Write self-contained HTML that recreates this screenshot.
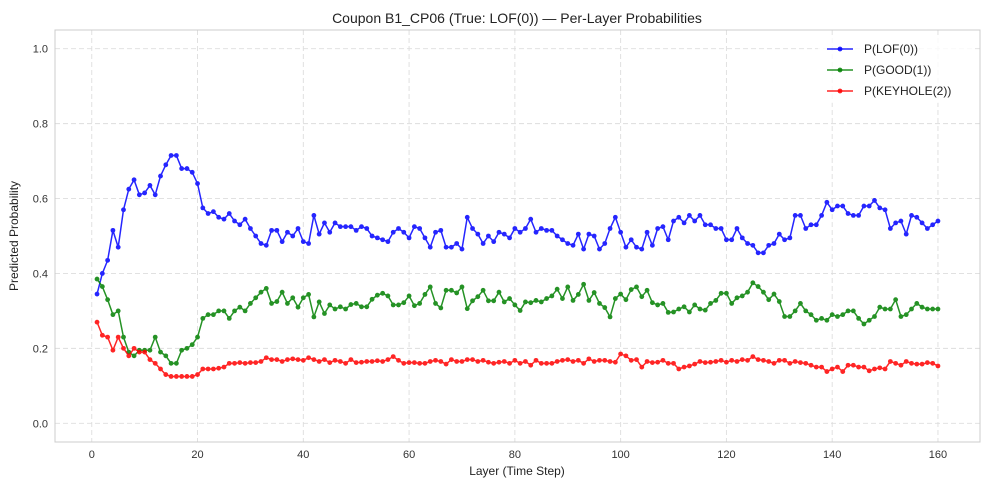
<!DOCTYPE html>
<html><head><meta charset="utf-8"><style>
html,body{margin:0;padding:0;background:#fff;}
svg{display:block;font-family:"Liberation Sans",Arial,sans-serif;}
</style></head><body>
<svg id="chart" width="989" height="490" viewBox="0 0 989 490">
<g id="grid"></g>
<rect x="55" y="30" width="925" height="412" fill="none" stroke="#ccc" stroke-width="1"/>
<g id="series"></g>
<g id="ticks"></g>
<text x="517" y="23" text-anchor="middle" font-size="14" fill="#222">Coupon B1_CP06 (True: LOF(0)) — Per-Layer Probabilities</text>
<text x="517" y="475" text-anchor="middle" font-size="12" fill="#222">Layer (Time Step)</text>
<text x="18" y="236" text-anchor="middle" font-size="12" fill="#222" transform="rotate(-90 18 236)">Predicted Probability</text>
<g id="legend">
<rect x="818" y="35" width="155" height="68" rx="3" fill="#fff" fill-opacity="0.8" stroke="none"/>
</g>
</svg>
<script>
const layers = Array.from({length:160},(_, i)=>i+1);
const pLof = [0.345,0.40,0.435,0.515,0.47,0.57,0.625,0.65,0.61,0.615,0.635,0.61,0.66,0.69,0.715,0.715,0.68,0.68,0.67,0.64,
0.575,0.56,0.565,0.55,0.545,0.56,0.54,0.53,0.545,0.52,0.50,0.48,0.475,0.515,0.515,0.485,0.51,0.50,0.52,0.485,
0.48,0.555,0.505,0.535,0.51,0.535,0.525,0.525,0.525,0.515,0.525,0.52,0.50,0.495,0.49,0.485,0.51,0.52,0.51,0.495,
0.525,0.52,0.495,0.47,0.51,0.515,0.47,0.47,0.48,0.465,0.55,0.52,0.505,0.48,0.50,0.485,0.51,0.505,0.495,
0.52,0.51,0.52,0.545,0.51,0.52,0.515,0.515,0.50,0.49,0.48,0.475,0.505,0.465,0.505,0.50,0.465,0.48,0.52,0.55,0.51,0.47,0.49,0.47,0.465,0.51,0.475,0.52,0.525,0.49,0.54,0.55,0.535,0.555,0.54,0.555,0.53,0.53,0.52,0.52,0.49,
0.49,0.52,0.495,0.48,0.475,0.455,0.455,0.475,0.48,0.505,0.49,0.495,0.555,0.555,0.52,0.53,0.53,0.555,0.59,0.57,0.58,0.58,0.56,0.555,0.555,0.58,0.58,0.595,0.575,0.57,0.52,0.535,0.54,0.505,0.555,0.55,0.535,0.52,0.53,0.54];
const pGood = [0.385,0.365,0.33,0.29,0.30,0.23,0.19,0.18,0.195,0.195,0.195,0.23,0.19,0.18,0.16,0.16,0.195,0.20,0.21,0.23,
0.28,0.29,0.29,0.30,0.30,0.28,0.30,0.31,0.30,0.32,0.335,0.35,0.36,0.32,0.325,0.35,0.32,0.335,0.31,0.335,
0.344,0.284,0.324,0.293,0.316,0.305,0.311,0.305,0.317,0.32,0.311,0.311,0.331,0.342,0.347,0.34,0.316,0.316,0.322,0.34,0.314,0.32,0.344,0.364,0.32,0.308,0.355,0.355,0.348,0.364,0.306,0.327,0.338,0.355,0.327,0.327,0.35,0.324,0.333,0.316,
0.301,0.324,0.322,0.328,0.324,0.333,0.34,0.358,0.333,0.364,0.328,0.344,0.371,0.328,0.349,0.32,0.309,0.284,0.333,0.345,0.33,0.357,0.364,0.338,0.355,0.322,0.316,0.32,0.296,0.297,0.305,0.311,0.297,0.316,0.305,0.302,0.32,0.328,0.347,0.347,
0.32,0.335,0.34,0.35,0.375,0.365,0.35,0.33,0.345,0.325,0.285,0.285,0.30,0.32,0.30,0.29,0.275,0.28,0.275,0.29,0.285,0.29,0.30,0.30,0.28,0.265,0.275,0.285,0.31,0.305,0.305,0.33,0.285,0.29,0.305,0.32,0.31,0.305,0.305,0.305];
const pKeyhole = [0.27,0.235,0.23,0.195,0.23,0.20,0.18,0.20,0.19,0.19,0.17,0.16,0.145,0.13,0.125,0.125,0.125,0.125,0.125,0.13,
0.145,0.145,0.145,0.147,0.15,0.16,0.16,0.162,0.16,0.162,0.162,0.165,0.175,0.17,0.17,0.165,0.17,0.172,0.17,0.168,
0.175,0.17,0.165,0.17,0.162,0.168,0.165,0.16,0.17,0.162,0.163,0.165,0.165,0.167,0.165,0.17,0.178,0.168,0.16,0.162,
0.162,0.16,0.16,0.165,0.168,0.165,0.158,0.17,0.165,0.165,0.17,0.17,0.165,0.168,0.163,0.16,0.163,0.165,0.16,0.168,
0.16,0.165,0.155,0.168,0.16,0.16,0.16,0.165,0.168,0.17,0.165,0.168,0.16,0.172,0.165,0.168,0.168,0.165,0.163,0.185,
0.18,0.168,0.17,0.15,0.165,0.162,0.163,0.168,0.16,0.16,0.145,0.15,0.153,0.158,0.165,0.162,0.163,0.165,0.168,0.163,
0.168,0.165,0.17,0.168,0.178,0.17,0.168,0.165,0.16,0.168,0.168,0.16,0.165,0.162,0.16,0.155,0.15,0.15,0.138,0.145,
0.15,0.138,0.155,0.155,0.15,0.15,0.14,0.145,0.148,0.145,0.165,0.16,0.155,0.165,0.16,0.158,0.158,0.162,0.16,0.153];
const xTicks = [0,20,40,60,80,100,120,140,160];
const yTicks = [0.0,0.2,0.4,0.6,0.8,1.0];
const seriesNames = ["P(LOF(0))","P(GOOD(1))","P(KEYHOLE(2))"];

const NS="http://www.w3.org/2000/svg";
const L=55,R=980,T=30,B=442;
const xMin=-6.95,xMax=167.95,yMin=-0.05,yMax=1.05;
const xs=v=>L+(v-xMin)/(xMax-xMin)*(R-L);
const ys=v=>B-(v-yMin)/(yMax-yMin)*(B-T);
function mk(tag,attrs,parent){const e=document.createElementNS(NS,tag);for(const k in attrs)e.setAttribute(k,attrs[k]);parent.appendChild(e);return e;}
const grid=document.getElementById('grid'),ticks=document.getElementById('ticks'),sg=document.getElementById('series'),lg=document.getElementById('legend');
xTicks.forEach(t=>{
  const g=mk('line',{x1:xs(t),x2:xs(t),y1:T,y2:B,stroke:'#ddd','stroke-dasharray':'5,3','stroke-width':0.9},grid);
  
  
  const tx=mk('text',{x:xs(t),y:B+16,'text-anchor':'middle','font-size':11,fill:'#333'},ticks);
  tx.textContent=t;
  
  
});
yTicks.forEach(t=>{
  const g=mk('line',{x1:L,x2:R,y1:ys(t),y2:ys(t),stroke:'#ddd','stroke-dasharray':'5,3','stroke-width':0.9},grid);
  
  
  const tx=mk('text',{x:L-7,y:ys(t)+4,'text-anchor':'end','font-size':11,fill:'#333'},ticks);
  tx.textContent=t.toFixed(1);
  
  
});
const colors=['#0000ff','#008000','#ff0000'];
[pLof,pGood,pKeyhole].forEach((arr,si)=>{
  const g=mk('g',{opacity:0.85},sg);
  
  
  const pts=arr.map((v,i)=>xs(layers[i]).toFixed(2)+','+ys(v).toFixed(2)).join(' ');
  const pl=mk('polyline',{points:pts,fill:'none',stroke:colors[si],'stroke-width':1.5},g);
  
  
  arr.forEach((v,i)=>{
    const c=mk('circle',{cx:xs(layers[i]),cy:ys(v),r:2.4,fill:colors[si]},g);
    
    
  });
  const ly=49+si*21;
  const lg2=mk('g',{},lg);
  
  
  mk('line',{x1:827,x2:853,y1:ly,y2:ly,stroke:colors[si],'stroke-width':1.5,opacity:0.85},lg2);
  mk('circle',{cx:840,cy:ly,r:2.4,fill:colors[si],opacity:0.85},lg2);
  const t=mk('text',{x:864,y:ly+4,'font-size':12,fill:'#222'},lg2);
  t.textContent=seriesNames[si];
});
</script>
</body></html>
